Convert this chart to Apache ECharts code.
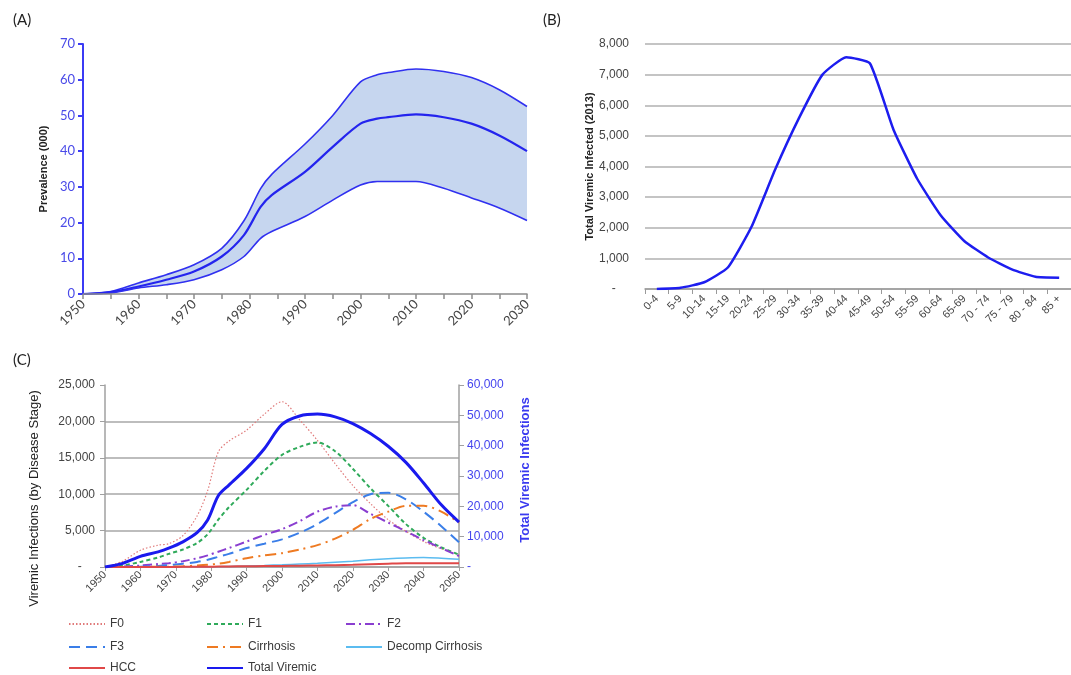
<!DOCTYPE html>
<html><head><meta charset="utf-8">
<script src="https://cdn.jsdelivr.net/npm/echarts@6/dist/echarts.min.js"></script>
<style>html,body{margin:0;padding:0;background:#fff}#c{width:1071px;height:675px}</style>
</head><body><div id="c"></div>
<script>
// ---- Panel A: prevalence (000) with uncertainty band ----
const yearsA  = [1950,1955,1960,1965,1970,1975,1979,1982,1984,1990,1995,2000,2003,2005,2010,2015,2020,2025,2030];
const upperA  = [0,0.7,3.1,5.4,8.2,12.8,20.5,29.5,33.5,42,50,59.4,61.4,62,63,62.3,60.6,57.2,52.5];
const centerA = [0,0.5,2.1,4.0,6.3,10.5,16.5,24.4,27.7,34.2,41.2,47.7,49.1,49.5,50.3,49.5,47.7,44.4,40];
const lowerA  = [0,0.3,1.7,2.6,4.0,6.8,10.5,15.6,17.5,21.7,26.3,30.5,31.5,31.5,31.5,29.6,26.9,24.1,20.6];

// ---- Panel B: total viremic infected by age (2013) ----
const ageGroups = ['0-4','5-9','10-14','15-19','20-24','25-29','30-34','35-39','40-44','45-49','50-54','55-59','60-64','65-69','70 - 74','75 - 79','80 - 84','85 +'];
const viremicByAge = [0,40,220,700,2030,3900,5570,7000,7570,7370,5200,3600,2400,1560,1030,640,400,370];

// ---- Panel C: viremic infections by disease stage ----
const yearsC = [1950,1955,1960,1965,1968,1972,1976,1979,1982,1985,1990,1995,2000,2005,2010,2015,2020,2025,2030,2035,2040,2045,2050];
const f0        = [0,800,2300,3000,3200,4300,7000,10500,15800,17300,18800,21000,22700,20200,17400,14200,11200,8700,6500,4900,3500,2500,1700];
const f1        = [0,200,700,1300,1800,2400,3300,4500,6500,8200,10600,13200,15400,16500,17100,15900,13500,10800,8400,5900,4000,2700,1700];
const f2        = [0,50,200,400,500,800,1200,1600,2100,2600,3500,4400,5200,6300,7600,8300,8500,7300,6100,4900,3700,2600,1500];
const f3        = [0,0,50,150,250,450,700,1000,1400,1800,2600,3200,3800,4700,5900,7400,8900,10000,10200,9300,7600,5600,3400];
const cirrhosis = [0,0,0,50,50,100,200,300,450,700,1200,1600,1900,2400,3000,3900,5100,6600,7600,8400,8400,7600,6100];
const decomp    = [0,0,0,10,10,20,30,40,50,80,150,220,300,400,500,650,800,1000,1150,1250,1300,1200,1050];
const hcc       = [0,0,0,0,10,20,30,40,60,80,100,130,150,180,200,250,300,380,450,500,500,500,500];
const totalViremic = [0,1200,3500,5000,6200,8300,11300,15500,23500,27000,32500,39000,47000,49800,50400,49500,47300,44000,39800,34500,27700,20500,14800];

const legendNames = ['F0','F1','F2','F3','Cirrhosis','Decomp Cirrhosis','HCC','Total Viremic'];

const pairs = (xs, ys) => xs.map((x, i) => [x, ys[i]]);
const fmt = v => v === 0 ? '-    ' : String(v).replace(/\B(?=(\d{3})+(?!\d))/g, ',');
const ARIAL = 'Liberation Sans';
const CAL = 'Lato';

const chart = echarts.init(document.getElementById('c'), null, {renderer: 'canvas'});

const legendPos = [
  [68, 618], [206, 618], [345, 618],
  [68, 641], [206, 641], [345, 641],
  [68, 662], [206, 662]
];
const legends = legendNames.map((n, i) => ({
  data: [n], left: legendPos[i][0], top: legendPos[i][1], padding: 0,
  itemWidth: 36, itemHeight: 10, itemGap: 5, selectedMode: false,
  itemStyle: {opacity: 0},
  textStyle: {fontFamily: ARIAL, fontSize: 12, color: '#3a3a3a'}
}));

const lineC = (name, data, color, width, type, yIdx, z) => ({
  name, type: 'line', xAxisIndex: 2, yAxisIndex: yIdx, data: pairs(yearsC, data),
  symbol: 'none', smooth: 0.3, z: z || 2,
  lineStyle: {color, width, type}, itemStyle: {color}
});

const option = {
  animation: false,
  backgroundColor: '#fff',
  title: [
    {text: '(A)', left: 8, top: 8, textStyle: {fontFamily: CAL, fontSize: 15, fontWeight: 'normal', color: '#222'}},
    {text: '(B)', left: 538, top: 8, textStyle: {fontFamily: CAL, fontSize: 15, fontWeight: 'normal', color: '#222'}},
    {text: '(C)', left: 8, top: 348, textStyle: {fontFamily: CAL, fontSize: 15, fontWeight: 'normal', color: '#222'}}
  ],
  legend: legends,
  grid: [
    {left: 83, top: 44, width: 444, height: 250},
    {left: 645, top: 44, width: 436, height: 245},
    {left: 105, top: 385, width: 354, height: 182}
  ],
  xAxis: [
    {gridIndex: 0, type: 'value', min: 1950, max: 2030, interval: 5, z: 5,
     axisLine: {show: true, lineStyle: {color: '#8c8c8c', width: 1.5}},
     axisTick: {show: true, length: 5, lineStyle: {color: '#8c8c8c', width: 1.5}},
     axisLabel: {rotate: 45, margin: 8, fontFamily: CAL, fontSize: 13, color: '#444',
                 formatter: v => (v % 10 === 0 ? String(v) : '')},
     splitLine: {show: false}},
    {gridIndex: 1, type: 'category', data: ageGroups, boundaryGap: true,
     axisLine: {show: true, lineStyle: {color: '#9a9a9a', width: 1.5}},
     axisTick: {show: true, length: 5, lineStyle: {color: '#9a9a9a'}},
     axisLabel: {rotate: 45, interval: 0, margin: 8, fontFamily: ARIAL, fontSize: 11, color: '#444'},
     splitLine: {show: false}},
    {gridIndex: 2, type: 'value', min: 1950, max: 2050, interval: 10,
     axisLine: {show: true, lineStyle: {color: '#a0a0a0', width: 1.5}},
     axisTick: {show: true, length: 4, lineStyle: {color: '#a0a0a0'}},
     axisLabel: {rotate: 45, margin: 6, fontFamily: ARIAL, fontSize: 11, color: '#444',
                 formatter: v => String(v)},
     splitLine: {show: false}}
  ],
  yAxis: [
    {gridIndex: 0, type: 'value', min: 0, max: 70, interval: 10, z: 5,
     name: 'Prevalence (000)', nameLocation: 'middle', nameGap: 34,
     nameTextStyle: {fontFamily: ARIAL, fontSize: 11, fontWeight: 'bold', color: '#222'},
     axisLine: {show: true, lineStyle: {color: '#3b3bf5', width: 2}},
     axisTick: {show: true, length: 5, lineStyle: {color: '#3b3bf5', width: 2}},
     axisLabel: {fontFamily: CAL, fontSize: 13, color: '#4a4ae8', margin: 8},
     splitLine: {show: false}},
    {gridIndex: 1, type: 'value', min: 0, max: 8000, interval: 1000,
     name: 'Total Viremic Infected (2013)', nameLocation: 'middle', nameGap: 50,
     nameTextStyle: {fontFamily: ARIAL, fontSize: 11, fontWeight: 'bold', color: '#222'},
     axisLine: {show: false}, axisTick: {show: false},
     axisLabel: {fontFamily: ARIAL, fontSize: 12, color: '#444', formatter: fmt, margin: 16},
     splitLine: {show: true, lineStyle: {color: '#c4c4c4', width: 2}}},
    {gridIndex: 2, type: 'value', min: 0, max: 25000, interval: 5000,
     name: 'Viremic Infections (by Disease Stage)', nameLocation: 'middle', nameGap: 64,
     nameTextStyle: {fontFamily: ARIAL, fontSize: 13, color: '#222', padding: [0, 0, 0, -45]},
     axisLine: {show: true, lineStyle: {color: '#a0a0a0', width: 1.5}},
     axisTick: {show: true, length: 5, lineStyle: {color: '#a0a0a0'}},
     axisLabel: {fontFamily: ARIAL, fontSize: 12, color: '#444', formatter: fmt, margin: 10},
     splitLine: {show: true, showMaxLine: false, lineStyle: {color: '#bdbdbd', width: 2}}},
    {gridIndex: 2, type: 'value', position: 'right', min: 0, max: 60000, interval: 10000,
     name: 'Total Viremic Infections', nameLocation: 'middle', nameGap: 60, nameRotate: 90,
     nameTextStyle: {fontFamily: ARIAL, fontSize: 13, fontWeight: 'bold', color: '#3a3af0', padding: [0, 0, 0, 12]},
     axisLine: {show: true, lineStyle: {color: '#a0a0a0', width: 1.5}},
     axisTick: {show: true, length: 5, lineStyle: {color: '#a0a0a0'}},
     axisLabel: {fontFamily: ARIAL, fontSize: 12, color: '#4444ee', formatter: fmt, margin: 8},
     splitLine: {show: false}}
  ],
  series: [
    // Panel A band: fill under upper, then white fill under lower
    {name: 'bandTop', type: 'line', xAxisIndex: 0, yAxisIndex: 0, silent: true, z: 1,
     data: pairs(yearsA, upperA), symbol: 'none', smooth: 0.3,
     lineStyle: {opacity: 0}, areaStyle: {color: '#c6d6ef', opacity: 1}},
    {name: 'bandBottom', type: 'line', xAxisIndex: 0, yAxisIndex: 0, silent: true, z: 1,
     data: pairs(yearsA, lowerA), symbol: 'none', smooth: 0.3,
     lineStyle: {opacity: 0}, areaStyle: {color: '#ffffff', opacity: 1}},
    {name: 'upper', type: 'line', xAxisIndex: 0, yAxisIndex: 0, data: pairs(yearsA, upperA),
     symbol: 'none', smooth: 0.3, lineStyle: {color: '#3030f0', width: 1.6}},
    {name: 'center', type: 'line', xAxisIndex: 0, yAxisIndex: 0, data: pairs(yearsA, centerA),
     symbol: 'none', smooth: 0.3, lineStyle: {color: '#2424ee', width: 2.2}},
    {name: 'lower', type: 'line', xAxisIndex: 0, yAxisIndex: 0, data: pairs(yearsA, lowerA),
     symbol: 'none', smooth: 0.3, lineStyle: {color: '#3030f0', width: 1.6}},
    // Panel B
    {name: 'byAge', type: 'line', xAxisIndex: 1, yAxisIndex: 1, data: viremicByAge,
     symbol: 'none', smooth: 0.15, lineStyle: {color: '#1d1def', width: 2.5}},
    // Panel C
    lineC('F0', f0, '#e07a7a', 1.2, [1.5, 2], 2),
    lineC('F1', f1, '#2faa5a', 2, [4, 3], 2),
    lineC('F2', f2, '#8a3ed0', 2, [9, 4, 2, 4], 2),
    lineC('F3', f3, '#3a7ee8', 2, [11, 6], 2),
    lineC('Cirrhosis', cirrhosis, '#ee7a22', 2, [11, 5, 2, 5], 2),
    lineC('Decomp Cirrhosis', decomp, '#5bbcf0', 1.5, 'solid', 2),
    lineC('HCC', hcc, '#e04848', 2, 'solid', 2),
    lineC('Total Viremic', totalViremic, '#1a1aee', 3, 'solid', 3, 4)
  ]
};
chart.setOption(option);
</script>
</body></html>
